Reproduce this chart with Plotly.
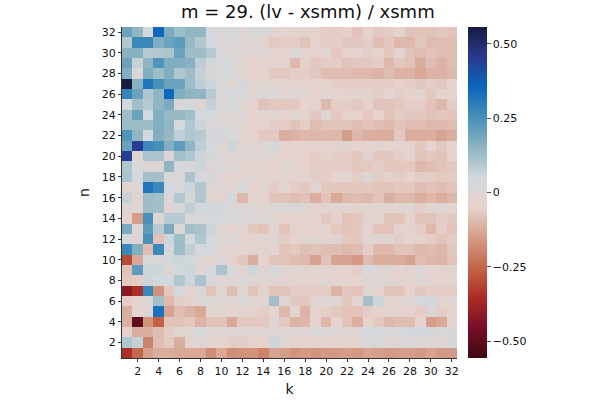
import plotly.graph_objects as go

k_values = list(range(1, 33))
n_values = list(range(1, 33))
tick_vals = list(range(2, 33, 2))
title_text = "m = 29. (lv - xsmm) / xsmm"

# rows listed from n = 32 (top) down to n = 1 (bottom); columns k = 1..32
rows_top_down = [
    [0.20,0.15,0.04,0.35,0.18,0.13,0.15,0.15,0.05,0.02,0.05,-0.01,0.03,0.02,-0.02,-0.04,-0.05,-0.03,-0.05,-0.06,-0.06,-0.05,-0.08,-0.05,-0.07,-0.06,-0.04,-0.08,-0.08,-0.08,-0.07,-0.08],
    [0.10,0.27,0.27,0.17,0.20,0.22,0.14,0.10,0.05,0.02,0.02,0.00,0.00,-0.03,-0.07,-0.06,-0.06,-0.08,-0.05,-0.06,-0.06,-0.07,-0.07,-0.06,-0.09,-0.07,-0.10,-0.10,-0.07,-0.09,-0.09,-0.09],
    [0.16,0.16,0.09,0.10,0.11,0.20,0.13,0.13,0.09,0.03,0.00,0.00,-0.01,-0.01,-0.05,-0.05,-0.005,-0.04,-0.05,-0.02,-0.07,-0.05,-0.04,-0.06,-0.05,-0.07,-0.03,-0.08,-0.09,-0.08,-0.09,-0.09],
    [0.20,0.07,0.15,0.24,0.17,0.17,0.16,0.08,0.04,0.03,0.03,-0.02,-0.05,-0.03,-0.05,-0.05,-0.10,-0.05,-0.07,-0.06,-0.06,-0.08,-0.07,-0.07,-0.06,-0.10,-0.07,-0.08,-0.12,-0.09,-0.11,-0.09],
    [0.17,0.01,0.17,0.13,0.17,0.10,0.13,0.07,0.01,0.03,0.03,-0.02,-0.05,-0.05,-0.07,-0.07,-0.06,-0.06,-0.07,-0.09,-0.09,-0.09,-0.10,-0.10,-0.11,-0.09,-0.11,-0.11,-0.13,-0.11,-0.11,-0.10],
    [0.56,0.16,0.32,0.25,0.20,0.20,0.13,0.08,0.06,0.03,-0.01,0.04,-0.02,-0.02,-0.02,-0.03,-0.02,-0.04,-0.05,-0.05,-0.06,-0.06,-0.06,-0.06,-0.06,-0.06,-0.05,-0.06,-0.07,-0.06,-0.07,-0.04],
    [0.28,0.20,0.10,0.15,0.35,0.17,0.15,0.15,0.09,0.02,0.05,0.02,-0.01,0.01,0.02,-0.02,-0.01,-0.01,-0.04,-0.03,-0.04,-0.05,-0.03,-0.03,-0.06,-0.04,-0.06,-0.05,-0.03,-0.07,-0.05,-0.03],
    [0.05,0.12,0.09,0.15,0.18,0.01,0.05,-0.01,0.07,0.02,0.04,-0.02,-0.04,-0.08,-0.07,-0.07,-0.07,-0.04,-0.05,-0.10,-0.06,-0.06,-0.07,-0.05,-0.08,-0.08,-0.07,-0.06,-0.06,-0.08,-0.10,-0.06],
    [0.13,0.20,0.05,0.17,0.14,0.14,0.12,0.05,0.05,0.00,0.00,0.00,-0.04,-0.03,-0.01,-0.04,-0.01,-0.05,-0.07,-0.01,-0.07,-0.05,-0.05,-0.07,-0.05,-0.08,-0.06,-0.07,-0.07,-0.08,-0.07,-0.08],
    [0.13,0.13,0.13,0.17,0.15,0.05,0.10,0.06,0.01,0.02,0.01,-0.02,-0.05,-0.04,-0.06,-0.06,-0.08,-0.06,-0.09,-0.08,-0.08,-0.08,-0.09,-0.08,-0.09,-0.10,-0.08,-0.09,-0.09,-0.10,-0.10,-0.09],
    [0.24,0.15,0.05,0.17,0.14,0.08,0.10,0.09,0.04,0.04,0.03,-0.01,-0.05,-0.07,-0.07,-0.12,-0.11,-0.10,-0.10,-0.10,-0.10,-0.15,-0.10,-0.12,-0.12,-0.12,-0.07,-0.12,-0.12,-0.12,-0.14,-0.12],
    [0.20,0.45,0.27,0.25,0.17,0.22,0.15,0.08,0.05,0.00,0.06,-0.01,0.00,-0.01,0.04,-0.04,-0.04,-0.03,-0.04,-0.04,-0.03,-0.02,-0.04,-0.04,-0.01,-0.04,-0.05,-0.05,-0.07,-0.04,-0.07,-0.04],
    [0.45,0.00,0.11,0.11,0.00,0.12,0.10,0.06,0.04,0.02,-0.01,-0.01,-0.01,-0.01,-0.01,-0.04,-0.04,-0.05,-0.06,-0.05,-0.06,-0.06,-0.07,-0.02,-0.07,-0.07,-0.06,-0.03,-0.08,-0.07,-0.08,-0.05],
    [0.10,0.03,0.00,0.00,0.15,0.05,0.03,0.06,0.00,0.02,-0.01,-0.01,-0.03,-0.03,-0.04,-0.01,-0.01,-0.05,-0.06,-0.06,-0.06,-0.06,-0.07,-0.07,-0.06,-0.07,-0.07,-0.07,-0.10,-0.09,-0.08,-0.07],
    [0.11,0.05,0.12,0.12,0.03,0.01,0.11,0.04,0.04,0.00,-0.04,-0.02,-0.02,-0.03,-0.03,-0.02,-0.05,-0.03,-0.06,-0.06,-0.04,-0.04,-0.06,0.00,-0.06,-0.05,-0.06,-0.05,-0.06,-0.06,-0.07,-0.06],
    [-0.02,0.00,0.32,0.27,0.05,0.02,0.06,0.10,-0.01,0.00,-0.02,0.03,-0.05,-0.01,-0.06,-0.04,-0.06,-0.07,-0.02,-0.07,-0.07,-0.07,-0.07,-0.07,-0.08,-0.08,-0.07,-0.07,-0.09,-0.08,-0.09,-0.08],
    [0.07,-0.02,0.13,0.12,0.02,0.10,0.04,0.10,-0.01,-0.03,0.04,-0.10,-0.05,-0.04,-0.08,-0.08,-0.09,-0.08,-0.12,-0.08,-0.13,-0.10,-0.09,-0.10,-0.08,-0.12,-0.10,-0.10,-0.12,-0.10,-0.12,-0.10],
    [-0.01,-0.01,0.13,0.12,-0.01,0.02,0.08,0.04,0.04,0.04,0.01,0.01,0.01,-0.02,-0.01,0.01,0.02,-0.02,-0.03,-0.03,-0.03,-0.04,-0.05,-0.02,-0.03,-0.03,-0.02,-0.01,-0.06,-0.02,-0.01,-0.04],
    [-0.03,-0.15,0.25,0.00,0.09,0.09,0.02,0.02,0.03,0.05,0.01,0.01,0.01,0.01,-0.02,-0.05,-0.04,-0.03,-0.05,-0.07,-0.05,-0.08,-0.07,-0.03,-0.03,-0.08,-0.08,-0.04,-0.08,-0.08,-0.06,-0.07],
    [0.18,-0.01,0.22,0.09,0.18,0.00,0.12,0.11,0.06,-0.01,-0.05,-0.02,-0.07,-0.08,-0.02,-0.08,-0.05,-0.05,-0.05,-0.04,-0.07,-0.08,-0.07,-0.04,-0.08,-0.08,-0.05,-0.05,-0.06,-0.10,-0.06,-0.08],
    [0.05,-0.01,0.25,-0.08,0.06,0.13,0.05,0.10,0.03,0.01,0.00,-0.04,-0.05,-0.02,-0.02,-0.06,-0.04,-0.01,-0.01,-0.05,-0.02,-0.07,-0.07,-0.02,-0.02,-0.02,-0.06,-0.04,-0.05,-0.06,-0.08,-0.06],
    [0.27,0.17,-0.09,0.27,0.03,0.13,0.08,0.05,0.05,-0.01,-0.03,-0.04,-0.02,-0.02,-0.03,-0.08,-0.07,-0.09,-0.08,-0.09,-0.09,-0.10,-0.09,-0.06,-0.10,-0.10,-0.08,-0.08,-0.10,-0.09,-0.10,-0.07],
    [-0.30,-0.13,0.02,0.02,0.04,0.06,0.04,0.00,-0.03,0.02,-0.05,-0.07,-0.12,-0.04,-0.08,-0.08,-0.09,-0.10,-0.14,-0.08,-0.14,-0.14,-0.16,-0.09,-0.12,-0.12,-0.12,-0.14,-0.09,-0.10,-0.11,-0.08],
    [-0.08,0.22,0.06,0.06,-0.01,0.05,0.06,-0.01,0.03,0.11,0.03,-0.03,0.06,-0.01,0.03,-0.02,-0.01,-0.03,-0.05,-0.03,-0.03,-0.05,-0.06,0.03,-0.01,-0.01,-0.04,-0.02,0.01,-0.04,-0.05,-0.01],
    [-0.07,-0.06,0.06,0.05,0.05,0.10,0.06,0.11,0.02,0.00,0.00,0.00,-0.01,-0.01,-0.02,-0.03,-0.03,-0.03,-0.03,-0.01,-0.04,-0.04,-0.04,-0.01,-0.01,-0.01,-0.03,-0.03,-0.01,-0.02,-0.05,-0.02],
    [-0.42,-0.35,0.27,-0.17,-0.07,0.05,-0.04,0.02,-0.08,-0.02,-0.09,-0.02,-0.08,-0.03,-0.08,-0.08,-0.06,-0.06,-0.06,-0.06,-0.11,-0.07,-0.08,-0.01,-0.04,-0.08,-0.08,-0.05,-0.07,-0.06,-0.06,-0.06],
    [-0.06,-0.04,-0.01,0.12,-0.10,-0.06,-0.05,0.01,0.01,0.00,-0.02,0.02,-0.01,-0.01,0.12,-0.02,-0.07,-0.07,-0.02,-0.01,-0.02,-0.07,-0.04,0.12,0.06,-0.03,-0.01,-0.01,0.03,0.04,-0.02,0.00],
    [-0.12,-0.04,0.00,0.33,-0.14,-0.09,-0.11,-0.13,-0.02,-0.03,-0.04,-0.03,-0.05,-0.06,-0.04,-0.10,-0.04,-0.11,-0.05,-0.06,-0.07,-0.08,-0.08,-0.06,-0.05,-0.02,-0.05,-0.05,-0.06,0.00,-0.06,-0.03],
    [-0.12,-0.50,-0.17,-0.26,-0.08,-0.08,-0.07,-0.11,-0.08,-0.08,-0.13,-0.07,-0.07,-0.07,-0.01,-0.07,-0.11,-0.10,-0.03,-0.10,-0.04,-0.08,-0.12,-0.05,-0.07,-0.10,-0.09,-0.09,-0.04,-0.15,-0.13,-0.03],
    [-0.05,-0.12,-0.12,-0.09,-0.06,-0.02,-0.02,0.03,-0.01,-0.01,-0.01,-0.02,-0.01,-0.01,-0.01,-0.01,-0.01,-0.01,0.02,0.01,0.01,-0.01,-0.01,0.05,0.03,0.02,0.03,0.04,0.04,0.04,0.02,0.04],
    [0.10,0.07,-0.20,-0.09,-0.07,-0.12,-0.03,0.00,-0.04,-0.04,-0.06,-0.06,-0.05,-0.05,0.06,-0.01,-0.02,-0.05,-0.05,-0.04,-0.03,-0.03,-0.03,0.02,0.02,0.00,-0.02,0.02,0.00,-0.01,-0.01,0.04],
    [-0.35,-0.25,-0.15,-0.12,-0.12,-0.13,-0.13,-0.13,-0.18,-0.13,-0.18,-0.17,-0.17,-0.20,-0.14,-0.15,-0.17,-0.16,-0.17,-0.16,-0.16,-0.15,-0.16,-0.14,-0.15,-0.16,-0.15,-0.15,-0.16,-0.14,-0.16,-0.16],
]
z_values = rows_top_down[::-1]  # index 0 -> n = 1

cbar_ticks = [-0.5, -0.25, 0, 0.25, 0.5]
cbar_labels = ["\u22120.50", "\u22120.25", "0", "0.25", "0.50"]
z_limit = 0.557

font_family = "DejaVu Sans"

fig = go.Figure(
    go.Heatmap(
        x=k_values,
        y=n_values,
        z=z_values,
        colorscale="balance_r",
        zmin=-z_limit,
        zmax=z_limit,
        colorbar=dict(
            x=1.033,
            xanchor="left",
            xpad=0,
            y=0.5,
            yanchor="middle",
            len=1,
            lenmode="fraction",
            ypad=0,
            thickness=19,
            outlinewidth=0,
            tickvals=cbar_ticks,
            ticktext=cbar_labels,
            ticks="outside",
            ticklen=4,
            tickcolor="#555",
            tickfont=dict(family=font_family, size=11, color="#111"),
        ),
    )
)

fig.update_layout(
    width=600,
    height=400,
    margin=dict(l=122, r=143, t=27, b=42, autoexpand=False),
    paper_bgcolor="white",
    plot_bgcolor="white",
    font=dict(family=font_family, color="#111"),
    title=dict(
        text=title_text,
        x=0.513,
        xanchor="center",
        y=0.97,
        yanchor="middle",
        font=dict(family=font_family, size=18, color="#111"),
    ),
)

axis_common = dict(
    range=[0.5, 32.5],
    tickvals=tick_vals,
    ticks="outside",
    ticklen=3,
    tickcolor="#333",
    showgrid=False,
    zeroline=False,
    showline=True,
    linecolor="#333",
    linewidth=1,
    mirror=False,
    automargin=False,
    tickfont=dict(family=font_family, size=11, color="#111"),
)

fig.update_xaxes(
    **axis_common,
    title=dict(text="k", font=dict(family=font_family, size=14, color="#111"), standoff=6),
)
fig.update_yaxes(
    **axis_common,
    title=dict(text="n", font=dict(family=font_family, size=14, color="#111"), standoff=8),
)

fig.write_html("out.html")
